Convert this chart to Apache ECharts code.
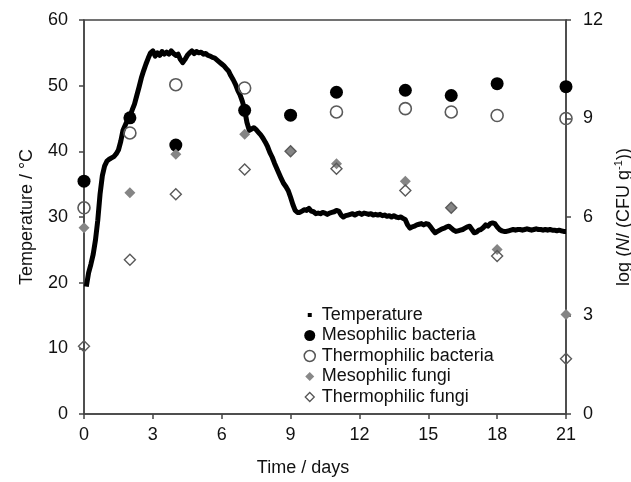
<!DOCTYPE html>
<html><head><meta charset="utf-8">
<script src="https://cdn.jsdelivr.net/npm/echarts@6/dist/echarts.min.js"></script>
<style>html,body{margin:0;padding:0;background:#fff}#c{width:631px;height:482px}</style>
</head><body><div id="c"></div>
<script>
// ---- data ----
const xTicks = [0, 3, 6, 9, 12, 15, 18, 21];
const tempStartDay = 0.1;   // first logged temperature (days)
const tempStepDay = 0.1;    // logging interval (days)
const temperature = [
  19.4, 21.5, 22.8, 24.3, 26.5, 29.5, 33.5, 36.3, 37.8, 38.5,
  38.8, 39.0, 39.2, 39.6, 40.2, 41.5, 43.2, 44.0, 44.8, 45.3,
  46.3, 47.2, 48.5, 49.8, 51.2, 52.3, 53.3, 54.2, 55.0, 55.3,
  54.5, 55.0, 54.6, 55.2, 54.8, 55.1, 54.8, 55.3, 54.9, 54.6,
  54.8, 54.0, 53.5, 54.0, 54.6, 55.0, 55.3, 54.9, 55.2, 55.0,
  55.1, 54.8, 54.9, 54.6, 54.5, 54.3, 54.2, 53.9, 53.6, 53.3,
  53.0, 52.6, 52.2, 51.5, 50.9, 50.2, 49.3, 48.6, 47.6, 46.3,
  44.4, 43.2, 43.4, 43.6, 43.3, 42.9, 42.5, 42.0, 41.4, 40.7,
  39.8, 39.1, 38.2, 37.4, 36.6, 35.8, 35.1, 34.6, 34.0, 33.0,
  31.9, 31.0, 30.7, 30.7, 30.9, 31.1, 31.0, 31.3, 30.9, 30.8,
  30.5, 30.6, 30.5, 30.7, 30.6, 30.4, 30.6, 30.7, 30.8, 31.0,
  30.9, 30.3, 30.0, 30.2, 30.3, 30.4, 30.5, 30.3, 30.5, 30.6,
  30.4, 30.6, 30.5, 30.4, 30.5, 30.3, 30.4, 30.3, 30.4, 30.2,
  30.3, 30.1, 30.2, 30.0, 30.2, 30.0, 29.9, 30.0, 29.8, 29.6,
  28.8, 28.3, 28.5, 28.6, 28.8, 28.9, 29.0, 28.8, 29.0, 28.9,
  28.5, 28.0, 27.6, 27.8, 28.0, 28.2, 28.3, 28.5, 28.6, 28.3,
  28.0, 27.8, 27.9, 28.0, 28.1, 28.3, 28.5, 28.6, 28.1, 27.6,
  27.7, 28.0, 28.1, 28.4, 28.8, 28.6, 29.0, 29.1, 29.0, 28.5,
  28.1, 27.9, 27.8, 27.8, 27.9, 28.0, 28.1, 28.0, 28.1, 28.1,
  28.0, 28.1, 28.2, 28.1, 28.0, 28.1, 28.2, 28.1, 28.1, 28.0,
  28.1, 28.0, 28.1, 28.0, 28.0, 27.9, 28.0, 27.9, 27.8, 27.8
];
const sampleDays     = [0, 2, 4, 7, 9, 11, 14, 16, 18, 21];
const mesoBacteria   = [7.09, 9.02, 8.19, 9.25, 9.10, 9.80, 9.86, 9.70, 10.06, 9.97];
const thermoBacteria = [6.28, 8.56, 10.03, 9.93, null, 9.20, 9.30, 9.20, 9.09, 9.00];
const mesoFungi      = [5.67, 6.74, 7.91, 8.52, 8.01, 7.62, 7.09, 6.28, 5.01, 3.03];
const thermoFungi    = [2.06, 4.70, 6.69, 7.45, 8.00, 7.47, 6.81, 6.28, 4.81, 1.68];

// ---- build ----
const FONT = 'Liberation Sans';
const FS = 18;
const pair = arr => sampleDays.map((d, i) => [d, arr[i]]).filter(p => p[1] != null);
const tempData = temperature.map((v, i) => [Math.round((tempStartDay + i * tempStepDay) * 100) / 100, v]);
const AX = '#444';

const chart = echarts.init(document.getElementById('c'), null, {renderer: 'canvas'});
chart.setOption({
  animation: false,
  backgroundColor: '#fff',
  grid: {left: 84, right: 65, top: 20, bottom: 68, show: true, borderColor: AX, borderWidth: 1.5,
         containLabel: false, outerBoundsMode: 'none'},
  xAxis: {
    type: 'value', min: xTicks[0], max: xTicks[xTicks.length - 1], interval: 3,
    name: 'Time / days', nameLocation: 'middle', nameGap: 45,
    nameTextStyle: {fontFamily: FONT, fontSize: FS, color: '#111', padding: [0, 44, 0, 0]},
    axisLine: {lineStyle: {color: AX, width: 1.5}},
    axisTick: {inside: false, length: 5, lineStyle: {color: AX, width: 1.5}},
    axisLabel: {margin: 12, fontFamily: FONT, fontSize: FS, color: '#111'},
    splitLine: {show: false}
  },
  yAxis: [{
    type: 'value', min: 0, max: 60, interval: 10, position: 'left',
    name: 'Temperature / °C', nameLocation: 'middle', nameGap: 48, nameRotate: 90,
    nameTextStyle: {fontFamily: FONT, fontSize: FS, color: '#111'},
    axisLine: {show: true, lineStyle: {color: AX, width: 1.5}},
    axisTick: {show: true, length: 5, lineStyle: {color: AX, width: 1.5}},
    axisLabel: {margin: 16, fontFamily: FONT, fontSize: FS, color: '#111'},
    splitLine: {show: false}
  }, {
    type: 'value', min: 0, max: 12, interval: 3, position: 'right',
    name: '{a|log (}{i|N}{a|/ (CFU g}{s|-1}{a|))}', nameLocation: 'middle', nameGap: 41, nameRotate: 90,
    nameTextStyle: {fontFamily: FONT, fontSize: FS, color: '#111',
      rich: {
        a: {fontFamily: FONT, fontSize: FS, color: '#111'},
        i: {fontFamily: FONT, fontSize: FS, color: '#111', fontStyle: 'italic'},
        s: {fontFamily: FONT, fontSize: 11, color: '#111', padding: [0, 0, 10, 0]}
      }},
    axisLine: {show: true, lineStyle: {color: AX, width: 1.5}},
    axisTick: {show: true, length: 5, lineStyle: {color: AX, width: 1.5}},
    axisLabel: {margin: 17, fontFamily: FONT, fontSize: FS, color: '#111'},
    splitLine: {show: false}
  }],
  legend: {
    orient: 'vertical', left: 297, top: 300,
    itemWidth: 14, itemHeight: 14, itemGap: 0.5,
    textStyle: {fontFamily: FONT, fontSize: FS, color: '#111', lineHeight: 20},
    data: [
      {name: 'Temperature', icon: 'path://M0,0M14,14M5,5L9,5L9,9L5,9Z', itemStyle: {color: '#000', borderWidth: 0}},
      {name: 'Mesophilic bacteria', icon: 'path://M0,0M14,14M1.5,7A5.5,5.5,0,1,0,12.5,7A5.5,5.5,0,1,0,1.5,7Z', itemStyle: {color: '#000', borderWidth: 0}},
      {name: 'Thermophilic bacteria', icon: 'path://M0,0M14,14M1.5,7A5.5,5.5,0,1,0,12.5,7A5.5,5.5,0,1,0,1.5,7Z', itemStyle: {color: 'rgba(0,0,0,0)', borderColor: '#555', borderWidth: 1.5}},
      {name: 'Mesophilic fungi', icon: 'path://M0,0M14,14M7,2.5L11.5,7L7,11.5L2.5,7Z', itemStyle: {color: '#888', borderWidth: 0}},
      {name: 'Thermophilic fungi', icon: 'path://M0,0M14,14M7,2.5L11.5,7L7,11.5L2.5,7Z', itemStyle: {color: 'rgba(0,0,0,0)', borderColor: '#555', borderWidth: 1.3}}
    ]
  },
  series: [
    {name: 'Temperature', type: 'line', yAxisIndex: 0, data: tempData, showSymbol: false,
     symbol: 'rect', lineStyle: {color: '#000', width: 5, join: 'round'}, itemStyle: {color: '#000'}, z: 2},
    {name: 'Mesophilic bacteria', type: 'scatter', yAxisIndex: 1, data: pair(mesoBacteria),
     symbol: 'circle', symbolSize: 13, itemStyle: {color: '#000', opacity: 1}, z: 3},
    {name: 'Thermophilic bacteria', type: 'scatter', yAxisIndex: 1, data: pair(thermoBacteria),
     symbol: 'circle', symbolSize: 12, itemStyle: {color: 'rgba(0,0,0,0)', borderColor: '#5a5a5a', borderWidth: 1.6, opacity: 1}, z: 4},
    {name: 'Mesophilic fungi', type: 'scatter', yAxisIndex: 1, data: pair(mesoFungi),
     symbol: 'diamond', symbolSize: 11, itemStyle: {color: '#858585', opacity: 1}, z: 3},
    {name: 'Thermophilic fungi', type: 'scatter', yAxisIndex: 1, data: pair(thermoFungi),
     symbol: 'diamond', symbolSize: 11, itemStyle: {color: 'rgba(0,0,0,0)', borderColor: '#5a5a5a', borderWidth: 1.4, opacity: 1}, z: 4}
  ]
});
</script>
</body></html>
